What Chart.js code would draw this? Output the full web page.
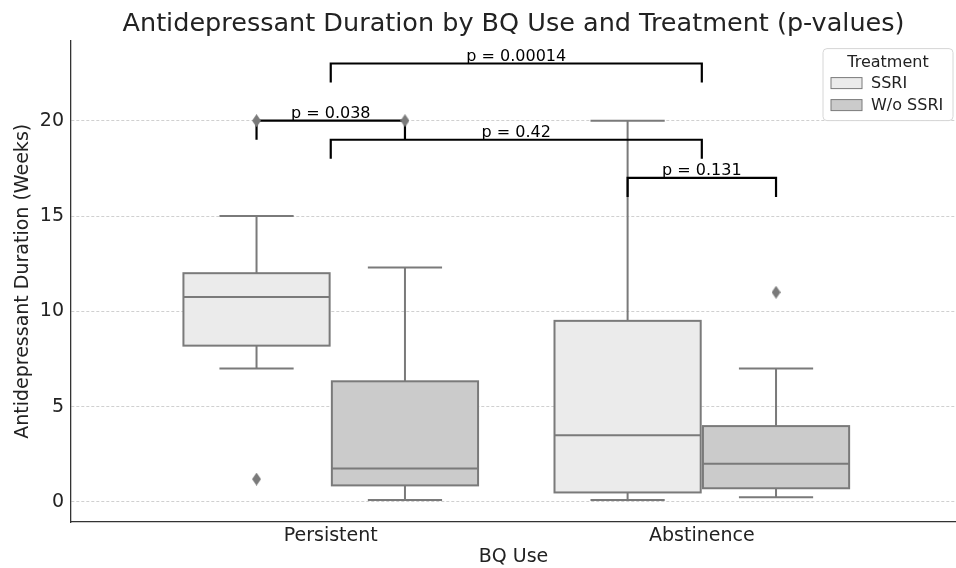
<!DOCTYPE html>
<html>
<head>
<meta charset="utf-8">
<script src="https://cdn.jsdelivr.net/npm/chart.js@4.4.0/dist/chart.umd.min.js"></script>
<style>
html, body { margin: 0; padding: 0; background: #fff; }
</style>
</head>
<body>
<canvas id="boxChart" width="956" height="568"></canvas>
<script>
var categories = ["Persistent", "Abstinence"];
var treatments = ["SSRI", "W/o SSRI"];
var yTicks = [0, 5, 10, 15, 20];

// box stats, one value per category
var ssriMin = [7.0, 0.1];
var ssriQ1 = [8.2, 0.5];
var ssriMedian = [10.75, 3.5];
var ssriQ3 = [12.0, 9.5];
var ssriMax = [15.0, 20.0];
var ssriOutliers = [[1.2, 20], []];

var woMin = [0.1, 0.25];
var woQ1 = [0.87, 0.72];
var woMedian = [1.75, 2.0];
var woQ3 = [6.33, 3.98];
var woMax = [12.3, 7.0];
var woOutliers = [[20], [11]];

// significance brackets
var pLabels = ["p = 0.038", "p = 0.42", "p = 0.131", "p = 0.00014"];
var pFrom = [-0.2, 0, 0.8, 0];
var pTo = [0.2, 1, 1.2, 1];
var pHeight = [20, 19, 17, 23];

var fills = ["#ebebeb", "#cbcbcb"];
var edge = "#7a7a7a";
var offsets = [-0.2, 0.2];
var font = '"DejaVu Sans", sans-serif';

var stats = [
  { min: ssriMin, q1: ssriQ1, med: ssriMedian, q3: ssriQ3, max: ssriMax, out: ssriOutliers },
  { min: woMin, q1: woQ1, med: woMedian, q3: woQ3, max: woMax, out: woOutliers }
];

// thin diamond marker like matplotlib 'd'
var dia = document.createElement('canvas');
dia.width = 9; dia.height = 13;
var dc = dia.getContext('2d');
dc.fillStyle = edge;
dc.beginPath();
dc.moveTo(4.5, 0); dc.lineTo(9, 6.5); dc.lineTo(4.5, 13); dc.lineTo(0, 6.5);
dc.closePath(); dc.fill();

var datasets = [];
stats.forEach(function(s, t) {
  var pts = [];
  s.out.forEach(function(vals, i) {
    vals.forEach(function(v) { pts.push({ x: i + offsets[t], y: v }); });
  });
  datasets.push({
    label: treatments[t] + " outliers",
    data: pts,
    pointStyle: dia,
    pointRadius: 5,
    showLine: false
  });
});

pLabels.forEach(function(lbl, k) {
  datasets.push({
    label: lbl,
    data: [
      { x: pFrom[k], y: pHeight[k] - 1 },
      { x: pFrom[k], y: pHeight[k] },
      { x: pTo[k], y: pHeight[k] },
      { x: pTo[k], y: pHeight[k] - 1 }
    ],
    showLine: true,
    borderColor: "#000",
    borderWidth: 2.2,
    borderJoinStyle: "miter",
    borderCapStyle: "butt",
    pointRadius: 0,
    tension: 0
  });
});

var boxPlugin = {
  id: 'boxes',
  beforeDatasetsDraw: function(chart) {
    var ctx = chart.ctx, xs = chart.scales.x, ys = chart.scales.y;
    var half = 0.197, cap = 0.1;
    ctx.save();
    ctx.lineWidth = 2;
    ctx.strokeStyle = edge;
    stats.forEach(function(s, t) {
      categories.forEach(function(c, i) {
        var xc = i + offsets[t];
        var l = xs.getPixelForValue(xc - half), r = xs.getPixelForValue(xc + half);
        var m = xs.getPixelForValue(xc);
        var top = ys.getPixelForValue(s.q3[i]), bot = ys.getPixelForValue(s.q1[i]);
        // whiskers
        ctx.beginPath();
        ctx.moveTo(m, top); ctx.lineTo(m, ys.getPixelForValue(s.max[i]));
        ctx.moveTo(m, bot); ctx.lineTo(m, ys.getPixelForValue(s.min[i]));
        ctx.moveTo(xs.getPixelForValue(xc - cap), ys.getPixelForValue(s.max[i]));
        ctx.lineTo(xs.getPixelForValue(xc + cap), ys.getPixelForValue(s.max[i]));
        ctx.moveTo(xs.getPixelForValue(xc - cap), ys.getPixelForValue(s.min[i]));
        ctx.lineTo(xs.getPixelForValue(xc + cap), ys.getPixelForValue(s.min[i]));
        ctx.stroke();
        // box
        ctx.fillStyle = fills[t];
        ctx.fillRect(l, top, r - l, bot - top);
        ctx.strokeRect(l, top, r - l, bot - top);
        // median
        var md = ys.getPixelForValue(s.med[i]);
        ctx.beginPath();
        ctx.moveTo(l, md); ctx.lineTo(r, md);
        ctx.stroke();
      });
    });
    ctx.restore();
  },
  afterDraw: function(chart) {
    var ctx = chart.ctx, xs = chart.scales.x, ys = chart.scales.y, area = chart.chartArea;
    ctx.save();
    ctx.fillStyle = "#000";
    ctx.font = '16px ' + font;
    ctx.textAlign = 'center';
    ctx.textBaseline = 'bottom';
    pLabels.forEach(function(lbl, k) {
      var x = xs.getPixelForValue((pFrom[k] + pTo[k]) / 2);
      ctx.fillText(lbl, x, ys.getPixelForValue(pHeight[k]) + 1);
    });

    // legend box
    var lw = 130, lh = 72;
    var lx = area.right - lw - 3, ly = area.top + 8;
    ctx.beginPath();
    ctx.roundRect(lx, ly, lw, lh, 4);
    ctx.fillStyle = "rgba(255,255,255,0.85)";
    ctx.fill();
    ctx.strokeStyle = "#d6d6d6";
    ctx.lineWidth = 1;
    ctx.stroke();
    ctx.fillStyle = "#222";
    ctx.textBaseline = 'middle';
    ctx.fillText("Treatment", lx + lw / 2, ly + 14);
    ctx.textAlign = 'left';
    treatments.forEach(function(name, t) {
      var ry = ly + 29 + t * 22;
      ctx.fillStyle = fills[t];
      ctx.fillRect(lx + 8, ry, 31, 11);
      ctx.strokeStyle = edge;
      ctx.strokeRect(lx + 8, ry, 31, 11);
      ctx.fillStyle = "#222";
      ctx.fillText(name, lx + 48, ry + 6);
    });
    ctx.restore();
  }
};

var chart = new Chart(document.getElementById('boxChart').getContext('2d'), {
  type: 'scatter',
  data: { datasets: datasets },
  plugins: [boxPlugin],
  options: {
    responsive: false,
    animation: false,
    layout: { padding: 0, autoPadding: false },
    plugins: {
      legend: { display: false },
      tooltip: { enabled: false },
      title: {
        display: true,
        fullSize: false,
        text: "Antidepressant Duration by BQ Use and Treatment (p-values)",
        color: "#222",
        font: { family: font, size: 25.5, weight: 'normal' },
        padding: { top: 9, bottom: 1 }
      }
    },
    scales: {
      x: {
        type: 'linear',
        min: -0.70,
        max: 1.685,
        afterBuildTicks: function(s) { s.ticks = categories.map(function(c, i) { return { value: i }; }); },
        afterFit: function(s) { s.height = 46; },
        ticks: {
          callback: function(v) { return categories[v]; },
          color: "#222",
          font: { family: font, size: 19 },
          padding: 3,
          maxRotation: 0
        },
        grid: { display: false, drawTicks: false, tickLength: 0 },
        border: { color: "#333", width: 1.3 },
        title: {
          display: true,
          text: "BQ Use",
          color: "#222",
          font: { family: font, size: 19 },
          padding: { top: 0, bottom: 0 }
        }
      },
      y: {
        min: -1.05,
        max: 24.2,
        afterBuildTicks: function(s) { s.ticks = yTicks.map(function(v) { return { value: v }; }); },
        afterFit: function(s) { s.width = 71; },
        ticks: {
          color: "#222",
          font: { family: font, size: 19 },
          padding: 7
        },
        grid: {
          color: "#d0d0d0",
          lineWidth: 1,
          drawTicks: false
        },
        border: { color: "#333", width: 1.3, dash: [3, 2] },
        title: {
          display: true,
          text: "Antidepressant Duration (Weeks)",
          color: "#222",
          font: { family: font, size: 19 },
          padding: { top: 12, bottom: 0 }
        }
      }
    }
  }
});
</script>
</body>
</html>
